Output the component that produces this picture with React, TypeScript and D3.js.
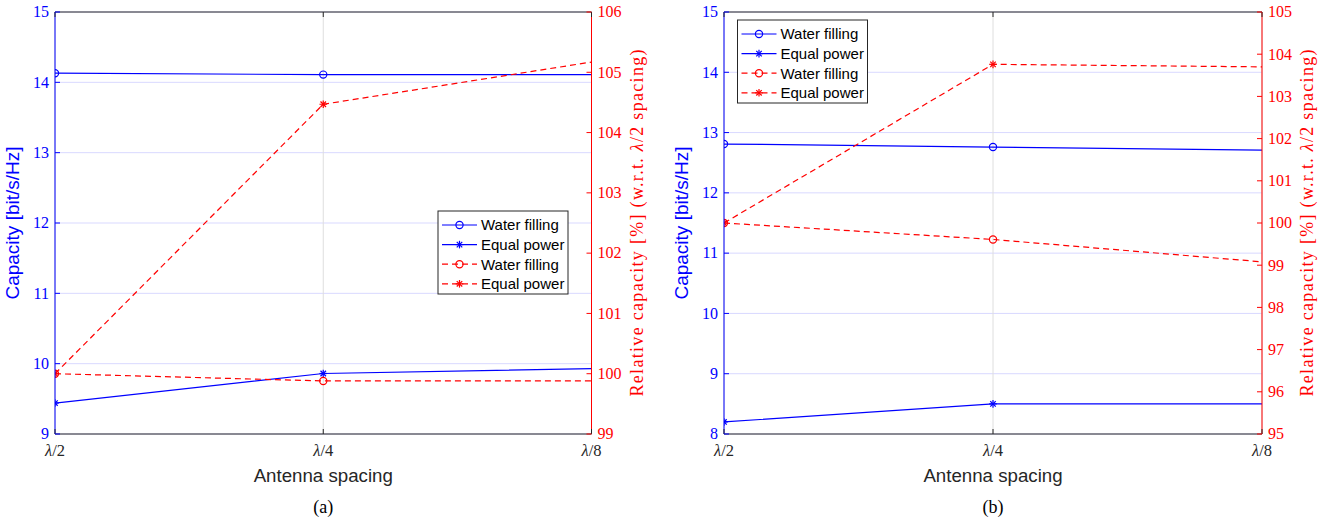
import React from "react";
import * as d3 from "d3";

// ---------- data ----------
const spacingKeys = ["2", "4", "8"]; // λ/2, λ/4, λ/8
const seriesNames = ["Water filling", "Equal power", "Water filling", "Equal power"];

// Panel (a)
const capWaterA = [14.13, 14.11, 14.11];
const capEqualA = [9.44, 9.86, 9.93];
const relWaterA = [100, 99.88, 99.88];
const relEqualA = [100, 104.47, 105.17];
const leftTicksA = [9, 10, 11, 12, 13, 14, 15];
const rightTicksA = [99, 100, 101, 102, 103, 104, 105, 106];

// Panel (b)
const capWaterB = [12.81, 12.76, 12.71];
const capEqualB = [8.2, 8.5, 8.5];
const relWaterB = [100, 99.61, 99.08];
const relEqualB = [100, 103.76, 103.7];
const leftTicksB = [8, 9, 10, 11, 12, 13, 14, 15];
const rightTicksB = [95, 96, 97, 98, 99, 100, 101, 102, 103, 104, 105];

// ---------- style ----------
const SANS = "'Liberation Sans', Arial, Helvetica, sans-serif";
const SERIF = "'Liberation Serif', 'Times New Roman', serif";
const BLUE = "#0000ff";
const RED = "#ff0000";
const DARK = "#262626";
const TOP = 12;
const BOTTOM = 434;

function Star({ x, y, r, color }: { x: number; y: number; r: number; color: string }) {
  const d = r * 0.72;
  return (
    <g stroke={color} strokeWidth={1.2}>
      <line x1={x - r} y1={y} x2={x + r} y2={y} />
      <line x1={x} y1={y - r} x2={x} y2={y + r} />
      <line x1={x - d} y1={y - d} x2={x + d} y2={y + d} />
      <line x1={x - d} y1={y + d} x2={x + d} y2={y - d} />
    </g>
  );
}

function Marker({ kind, x, y, color }: { kind: string; x: number; y: number; color: string }) {
  if (kind === "o") return <circle cx={x} cy={y} r={3.6} fill="none" stroke={color} strokeWidth={1.2} />;
  return <Star x={x} y={y} r={3.8} color={color} />;
}

function Lambda({ k }: { k: string }) {
  return (
    <>
      <tspan fontStyle="italic">λ</tspan>
      <tspan>/{k}</tspan>
    </>
  );
}

type PanelProps = {
  id: string;
  x0: number;
  x1: number;
  leftTicks: number[];
  rightTicks: number[];
  capWater: number[];
  capEqual: number[];
  relWater: number[];
  relEqual: number[];
  legendX: number;
  legendY: number;
  caption: string;
};

function Panel(p: PanelProps) {
  const x = d3.scalePoint<string>().domain(spacingKeys).range([p.x0, p.x1]);
  const yL = d3
    .scaleLinear()
    .domain([d3.min(p.leftTicks)!, d3.max(p.leftTicks)!])
    .range([BOTTOM, TOP]);
  const yR = d3
    .scaleLinear()
    .domain([d3.min(p.rightTicks)!, d3.max(p.rightTicks)!])
    .range([BOTTOM, TOP]);

  const series = [
    { vals: p.capWater, y: yL, color: BLUE, dash: undefined, marker: "o" },
    { vals: p.capEqual, y: yL, color: BLUE, dash: undefined, marker: "*" },
    { vals: p.relWater, y: yR, color: RED, dash: "6,4", marker: "o" },
    { vals: p.relEqual, y: yR, color: RED, dash: "6,4", marker: "*" },
  ];

  const cx = (p.x0 + p.x1) / 2;
  const cy = (TOP + BOTTOM) / 2;
  const clipId = `clip-${p.id}`;

  return (
    <g>
      <defs>
        <clipPath id={clipId}>
          <rect x={p.x0} y={TOP} width={p.x1 - p.x0} height={BOTTOM - TOP} />
        </clipPath>
      </defs>
      {/* grid */}
      {p.leftTicks.map((t) => (
        <line key={`gh${t}`} x1={p.x0} x2={p.x1} y1={yL(t)} y2={yL(t)} stroke="#d9d9ff" strokeWidth={1} />
      ))}
      {spacingKeys.map((k) => (
        <line key={`gv${k}`} x1={x(k)} x2={x(k)} y1={TOP} y2={BOTTOM} stroke="#dedede" strokeWidth={1} />
      ))}
      {/* data */}
      <g clipPath={`url(#${clipId})`}>
        {series.map((s, i) => {
          const line = d3
            .line<number>()
            .x((_, j) => x(spacingKeys[j])!)
            .y((v) => s.y(v));
          return (
            <g key={i}>
              <path d={line(s.vals)!} fill="none" stroke={s.color} strokeWidth={1.2} strokeDasharray={s.dash} />
              {s.vals.slice(0, s.vals.length - 1).map((v, j) => (
                <Marker key={j} kind={s.marker} x={x(spacingKeys[j])!} y={s.y(v)} color={s.color} />
              ))}
            </g>
          );
        })}
      </g>
      {/* box */}
      <line x1={p.x0} x2={p.x1} y1={TOP} y2={TOP} stroke={DARK} strokeWidth={1} />
      <line x1={p.x0} x2={p.x1} y1={BOTTOM} y2={BOTTOM} stroke={DARK} strokeWidth={1} />
      <line x1={p.x0} x2={p.x0} y1={TOP} y2={BOTTOM} stroke={BLUE} strokeWidth={1} />
      <line x1={p.x1} x2={p.x1} y1={TOP} y2={BOTTOM} stroke={RED} strokeWidth={1} />
      {/* x ticks */}
      {spacingKeys.map((k) => (
        <g key={`xt${k}`}>
          <line x1={x(k)} x2={x(k)} y1={BOTTOM} y2={BOTTOM - 5} stroke={DARK} />
          <line x1={x(k)} x2={x(k)} y1={TOP} y2={TOP + 5} stroke={DARK} />
          <text x={x(k)} y={455.5} textAnchor="middle" fontFamily={SERIF} fontSize={16.5} fill={DARK}>
            <Lambda k={k} />
          </text>
        </g>
      ))}
      {/* left ticks */}
      {p.leftTicks.map((t) => (
        <g key={`lt${t}`}>
          <line x1={p.x0} x2={p.x0 + 5} y1={yL(t)} y2={yL(t)} stroke={BLUE} />
          <text x={p.x0 - 6} y={yL(t) + 5.3} textAnchor="end" fontFamily={SERIF} fontSize={16} fill={BLUE}>
            {t}
          </text>
        </g>
      ))}
      {/* right ticks */}
      {p.rightTicks.map((t) => (
        <g key={`rt${t}`}>
          <line x1={p.x1} x2={p.x1 - 5} y1={yR(t)} y2={yR(t)} stroke={RED} />
          <text x={p.x1 + 6} y={yR(t) + 5.3} textAnchor="start" fontFamily={SERIF} fontSize={16} fill={RED}>
            {t}
          </text>
        </g>
      ))}
      {/* axis labels */}
      <text
        transform={`translate(${p.x0 - 36},${cy}) rotate(-90)`}
        textAnchor="middle"
        fontFamily={SANS}
        fontSize={19}
        fill={BLUE}
      >
        Capacity [bit/s/Hz]
      </text>
      <text
        transform={`translate(${p.x1 + 51},${cy}) rotate(-90)`}
        textAnchor="middle"
        fontFamily={SERIF}
        fontSize={18}
        fill={RED}
        textLength={347}
        lengthAdjust="spacing"
      >
        Relative capacity [%] (w.r.t. <tspan fontStyle="italic">λ</tspan>/2 spacing)
      </text>
      <text x={cx} y={482} textAnchor="middle" fontFamily={SANS} fontSize={18.7} fill={DARK}>
        Antenna spacing
      </text>
      <text x={cx} y={513} textAnchor="middle" fontFamily={SERIF} fontSize={18} fill="#000">
        {p.caption}
      </text>
      {/* legend */}
      <g transform={`translate(${p.legendX},${p.legendY})`}>
        <rect x={0} y={0} width={130} height={83} fill="#fff" stroke={DARK} strokeWidth={1} />
        {series.map((s, i) => {
          const ry = 14 + i * 19.6;
          return (
            <g key={i}>
              <line x1={4} x2={39} y1={ry} y2={ry} stroke={s.color} strokeWidth={1.2} strokeDasharray={s.dash} />
              <Marker kind={s.marker} x={21.5} y={ry} color={s.color} />
              <text x={43} y={ry + 5.3} fontFamily={SANS} fontSize={15} fill="#000">
                {seriesNames[i]}
              </text>
            </g>
          );
        })}
      </g>
    </g>
  );
}

export default function App() {
  return (
    <svg
      width={1335}
      height={521}
      style={{ position: "absolute", left: 0, top: 0, background: "#fff" }}
      xmlns="http://www.w3.org/2000/svg"
    >
      <rect width={1335} height={521} fill="#fff" />
      <Panel
        id="a"
        x0={55}
        x1={591.5}
        leftTicks={leftTicksA}
        rightTicks={rightTicksA}
        capWater={capWaterA}
        capEqual={capEqualA}
        relWater={relWaterA}
        relEqual={relEqualA}
        legendX={438}
        legendY={211}
        caption="(a)"
      />
      <Panel
        id="b"
        x0={724}
        x1={1262}
        leftTicks={leftTicksB}
        rightTicks={rightTicksB}
        capWater={capWaterB}
        capEqual={capEqualB}
        relWater={relWaterB}
        relEqual={relEqualB}
        legendX={737.5}
        legendY={20}
        caption="(b)"
      />
    </svg>
  );
}
